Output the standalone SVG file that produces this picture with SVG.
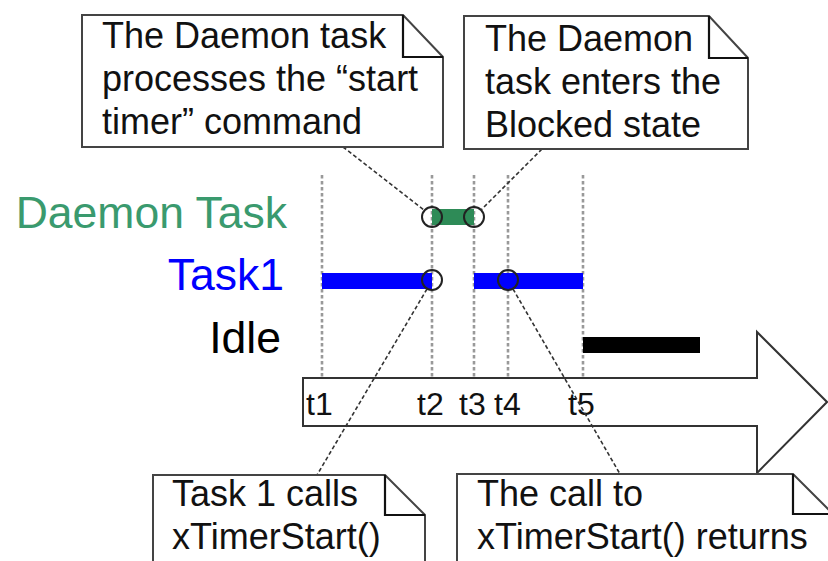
<svg xmlns="http://www.w3.org/2000/svg" width="828" height="561" viewBox="0 0 828 561">
<style>
  .note{fill:#fff;stroke:#444;stroke-width:2}
  .fold{fill:none;stroke:#111;stroke-width:2.2}
  .nt{font-family:"Liberation Sans",Arial,sans-serif;font-size:36px;fill:#111}
  .lbl{font-family:"Liberation Sans",Arial,sans-serif;font-size:44.5px;text-anchor:end}
  .tl{font-family:"Liberation Sans",Arial,sans-serif;font-size:32px;fill:#111}
  .vline{stroke:#999;stroke-width:2.6;stroke-dasharray:3.5 2.5;fill:none}
  .conn{stroke:#333;stroke-width:1.6;stroke-dasharray:4 2.5;fill:none}
  .ring{fill:none;stroke:#222;stroke-width:2}
</style>
<rect width="828" height="561" fill="#fff"/>

<g id="time-axis">
  <path d="M303,378 H757 V332 L827,402 L757,473 V426 H303 Z" fill="#fff" stroke="#333" stroke-width="2"/>
  <text class="tl" x="306" y="415">t1</text>
  <text class="tl" x="417" y="415">t2</text>
  <text class="tl" x="459" y="415">t3</text>
  <text class="tl" x="494" y="415">t4</text>
  <text class="tl" x="568" y="415">t5</text>
</g>

<g id="gridlines">
  <line class="vline" x1="322" y1="175" x2="322" y2="377"/>
  <line class="vline" x1="432" y1="175" x2="432" y2="377"/>
  <line class="vline" x1="474" y1="175" x2="474" y2="377"/>
  <line class="vline" x1="508" y1="175" x2="508" y2="377"/>
  <line class="vline" x1="583" y1="175" x2="583" y2="377"/>
</g>

<g id="labels">
  <text class="lbl" x="287" y="228" fill="#3a9a6e">Daemon Task</text>
  <text class="lbl" x="284" y="290" fill="#0000ff">Task1</text>
  <text class="lbl" x="281" y="353" fill="#000">Idle</text>
</g>

<g id="daemon-bar">
  <rect x="432" y="209" width="42" height="16" fill="#2e8b57"/>
</g>
<g id="task1-bars">
  <rect x="322" y="273" width="110" height="16" fill="#0000ff"/>
  <rect x="474" y="273" width="109" height="16" fill="#0000ff"/>
</g>
<g id="idle-bar">
  <rect x="583" y="337" width="117" height="16" fill="#000"/>
</g>

<g id="events">
  <circle class="ring" cx="432" cy="217" r="10"/>
  <circle class="ring" cx="474" cy="217" r="10"/>
  <circle class="ring" cx="432" cy="280" r="10"/>
  <circle class="ring" cx="508" cy="280" r="10"/>
</g>

<g id="connectors">
  <line class="conn" x1="343" y1="147" x2="424" y2="210"/>
  <line class="conn" x1="542" y1="149" x2="481" y2="210"/>
  <line class="conn" x1="427" y1="289" x2="317" y2="475"/>
  <line class="conn" x1="513" y1="289" x2="620" y2="474"/>
</g>

<g id="note-start-timer">
  <path class="note" d="M82,15 H403 L443,57 V147 H82 Z"/>
  <path class="fold" d="M403,15 V57 H443"/>
  <text class="nt" x="102" y="48">The Daemon task</text>
  <text class="nt" x="102" y="91">processes the “start</text>
  <text class="nt" x="102" y="134">timer” command</text>
</g>

<g id="note-blocked">
  <path class="note" d="M464,16 H709 L748,58 V149 H464 Z"/>
  <path class="fold" d="M709,16 V58 H748"/>
  <text class="nt" x="485" y="51">The Daemon</text>
  <text class="nt" x="485" y="94">task enters the</text>
  <text class="nt" x="485" y="137">Blocked state</text>
</g>

<g id="note-task1-calls">
  <path class="note" d="M153,475 H385 L425,515 V600 H153 Z"/>
  <path class="fold" d="M385,475 V515 H425"/>
  <text class="nt" x="172" y="506">Task 1 calls</text>
  <text class="nt" x="172" y="549">xTimerStart()</text>
</g>

<g id="note-returns">
  <path class="note" d="M457,474 H793 L833,514 V600 H457 Z"/>
  <path class="fold" d="M793,474 V514 H833"/>
  <text class="nt" x="477" y="506">The call to</text>
  <text class="nt" x="477" y="549">xTimerStart() returns</text>
</g>
</svg>
